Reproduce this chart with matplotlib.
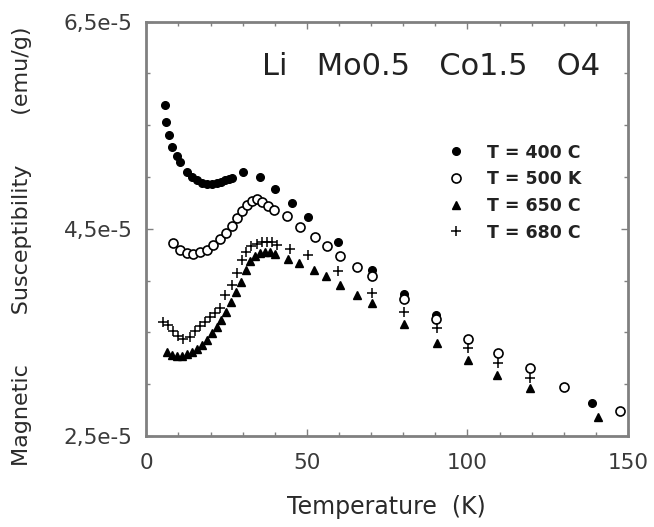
import matplotlib
matplotlib.use("Agg")
import matplotlib.pyplot as plt
import numpy as np
from matplotlib.ticker import FixedLocator, MultipleLocator

# ---- data (susceptibility in units of 1e-5 emu/g) ----
T_400 = [5.8, 6.1, 7.2, 8.1, 9.5, 10.4, 12.6, 14.1, 15.7, 17.3, 18.8, 20.4, 21.9,
         23.3, 24.5, 25.8, 26.8, 30.0, 35.4, 40.1, 45.5, 50.5, 59.8, 70.2, 80.1, 90.3, 138.7]
chi_400 = [5.70, 5.53, 5.41, 5.29, 5.20, 5.15, 5.05, 5.00, 4.97, 4.945, 4.93, 4.93, 4.94,
           4.955, 4.97, 4.98, 4.99, 5.05, 5.00, 4.88, 4.75, 4.61, 4.37, 4.10, 3.87, 3.67, 2.82]

T_500 = [8.3, 10.4, 12.6, 14.6, 16.7, 18.8, 20.9, 22.8, 24.7, 26.6, 28.3, 29.9, 31.4,
         32.9, 34.5, 36.1, 37.8, 39.9, 43.9, 47.8, 52.4, 56.4, 60.3, 65.5, 70.2, 80.1,
         90.3, 100.1, 109.5, 119.5, 130.2, 147.5]
chi_500 = [4.36, 4.30, 4.27, 4.26, 4.28, 4.30, 4.34, 4.40, 4.46, 4.53, 4.60, 4.67, 4.73,
           4.77, 4.785, 4.76, 4.72, 4.68, 4.62, 4.52, 4.42, 4.335, 4.24, 4.135, 4.04, 3.82,
           3.63, 3.44, 3.30, 3.155, 2.97, 2.74]

T_650 = [6.3, 7.9, 9.5, 11.0, 12.6, 14.1, 15.7, 17.3, 18.8, 20.4, 21.9, 23.3, 24.8,
         26.4, 28.0, 29.5, 31.0, 32.4, 33.9, 35.4, 37.0, 38.5, 40.1, 44.0, 47.6, 52.2,
         56.0, 60.3, 65.5, 70.2, 80.1, 90.5, 100.1, 109.2, 119.5, 140.8]
chi_650 = [3.31, 3.28, 3.27, 3.27, 3.29, 3.31, 3.34, 3.38, 3.43, 3.49, 3.55, 3.62, 3.70,
           3.79, 3.89, 3.99, 4.10, 4.19, 4.24, 4.27, 4.28, 4.275, 4.255, 4.21, 4.17, 4.10,
           4.04, 3.96, 3.86, 3.78, 3.58, 3.40, 3.235, 3.09, 2.96, 2.68]

T_680 = [5.3, 6.9, 8.4, 10.0, 11.5, 13.6, 15.2, 16.7, 18.3, 19.8, 21.4, 23.0, 24.5,
         26.6, 28.2, 29.7, 30.9, 32.6, 34.4, 35.9, 37.5, 39.1, 40.6, 44.8, 50.5, 59.8,
         70.2, 80.1, 90.5, 100.1, 109.5, 119.5]
chi_680 = [3.60, 3.57, 3.51, 3.47, 3.44, 3.46, 3.51, 3.56, 3.60, 3.65, 3.69, 3.74, 3.86,
           3.96, 4.07, 4.20, 4.28, 4.33, 4.355, 4.37, 4.375, 4.37, 4.345, 4.31, 4.25, 4.09,
           3.885, 3.70, 3.54, 3.35, 3.20, 3.06]

labels = ["T = 400 C", "T = 500 K", "T = 650 C", "T = 680 C"]
yticks = [2.5, 4.5, 6.5]
ytick_labels = ["2,5e-5", "4,5e-5", "6,5e-5"]
xticks = [0, 50, 100, 150]
title_text = "Li   Mo0.5   Co1.5   O4"
xlabel_text = "Temperature  (K)"
ylabel_text = "Magnetic       Susceptibility       (emu/g)"

scale = 1e-5
W, H = 654, 527
AX_L, AX_R, AX_T, AX_B = 146.3, 628.0, 21.7, 436.0

fig = plt.figure(figsize=(W / 100, H / 100), dpi=100)
ax = fig.add_axes([AX_L / W, 1 - AX_B / H, (AX_R - AX_L) / W, (AX_B - AX_T) / H])

ax.plot(T_400, np.array(chi_400) * scale, linestyle="none", marker="o", ms=5.5,
        mfc="black", mec="black", label=labels[0])
ax.plot(T_500, np.array(chi_500) * scale, linestyle="none", marker="o", ms=6.5,
        mfc="white", mec="black", mew=1.2, label=labels[1])
ax.plot(T_650, np.array(chi_650) * scale, linestyle="none", marker="^", ms=5.5,
        mfc="black", mec="black", label=labels[2])
ax.plot(T_680, np.array(chi_680) * scale, linestyle="none", marker="+", ms=7,
        mec="black", mew=1.1, label=labels[3])

ax.set_xlim(0, 150)
ax.set_ylim(2.5 * scale, 6.5 * scale)

grey = "#808080"
for s in ax.spines.values():
    s.set_color(grey)
    s.set_linewidth(2.0)

ax.xaxis.set_major_locator(FixedLocator(xticks))
ax.xaxis.set_minor_locator(MultipleLocator(10))
ax.yaxis.set_major_locator(FixedLocator([v * scale for v in yticks]))
ax.yaxis.set_minor_locator(MultipleLocator(0.5 * scale))
ax.set_yticklabels(ytick_labels)
ax.set_xticklabels([str(v) for v in xticks])
ax.tick_params(which="both", direction="in", top=True, right=True, color=grey)
ax.tick_params(which="major", length=5, width=1.0, labelsize=15.5, labelcolor="#3a3a3a")
ax.tick_params(axis="x", which="major", pad=12)
ax.tick_params(axis="y", which="major", pad=10)
ax.tick_params(which="minor", length=3, width=1.0)

fig.text(386 / W, 1 - 514 / H, xlabel_text, ha="center", va="baseline",
         fontsize=17, color="#2a2a2a")
fig.text(22 / W, 1 - 246 / H, ylabel_text, ha="center", va="center", rotation=90,
         fontsize=16, color="#2a2a2a")

ax.text((600 - AX_L) / (AX_R - AX_L), (AX_B - 75) / (AX_B - AX_T), title_text,
        ha="right", va="baseline", fontsize=22, color="#222222", transform=ax.transAxes)

leg = ax.legend(loc="upper left",
                bbox_to_anchor=((447.7 - AX_L) / (AX_R - AX_L), (AX_B - 143.5) / (AX_B - AX_T)),
                frameon=False, fontsize=12.5, handlelength=1.0, handletextpad=1.25,
                labelspacing=0.5, borderaxespad=0, borderpad=0)
for t in leg.get_texts():
    t.set_fontweight("bold")
    t.set_color("#222222")

fig.savefig("out.png", dpi=100)
